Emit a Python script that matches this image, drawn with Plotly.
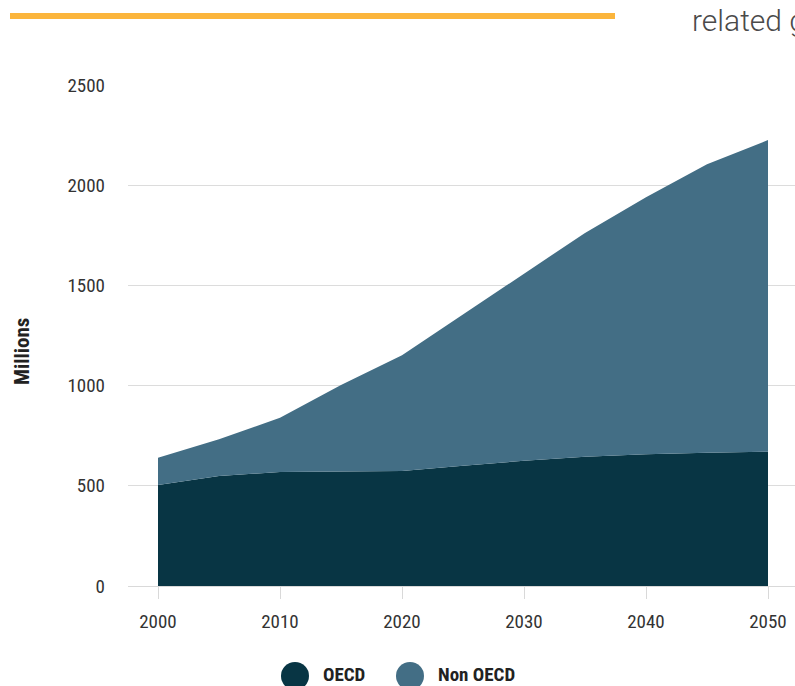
import plotly.graph_objects as go

# Data (millions)
years = [2000, 2005, 2010, 2015, 2020, 2025, 2030, 2035, 2040, 2045, 2050]
oecd = [504, 549, 569, 572, 574, 600, 625, 645, 657, 665, 670]
total = [640, 732, 840, 1003, 1151, 1355, 1560, 1762, 1940, 2104, 2225]
non_oecd = [t - o for t, o in zip(total, oecd)]

series_names = ["OECD", "Non OECD"]
series_colors = ["#083544", "#436e85"]

COND = "Roboto Condensed, Liberation Sans Narrow, DejaVu Sans Condensed, Roboto, sans-serif"

W, H = 795, 686
L, R, T, B = 128, 0, 85, 100
PW, PH = W - L - R, H - T - B


def px_x(p):
    return (p - L) / PW


def px_y(p):
    return (H - B - p) / PH


fig = go.Figure()
for name, vals, col in zip(series_names, [oecd, non_oecd], series_colors):
    fig.add_trace(go.Scatter(
        x=years, y=vals, name=name, mode="lines",
        stackgroup="one", line=dict(width=0, color=col),
        fillcolor=col, showlegend=False,
    ))

shapes = [
    # accent bar across the top
    dict(type="rect", xref="paper", yref="paper",
         x0=px_x(10), x1=px_x(615), y0=px_y(19), y1=px_y(13),
         fillcolor="#fbb53c", line=dict(width=0)),
]
annotations = [
    dict(text="related g", xref="paper", yref="paper", x=px_x(690), y=px_y(21),
         xanchor="left", yanchor="middle", showarrow=False,
         font=dict(family="Roboto", size=30, color="#4a4a4a", weight=300)),
    dict(text="<b>Millions</b>", xref="paper", yref="paper", x=px_x(22), y=px_y(352),
         xanchor="center", yanchor="middle", textangle=-90, showarrow=False,
         font=dict(family=COND, size=21, color="#222")),
]

# legend drawn as large dots with bold labels
legend_cx = [295, 410]
for cx, name, col in zip(legend_cx, series_names, series_colors):
    shapes.append(dict(type="circle", xref="paper", yref="paper",
                       xsizemode="pixel", ysizemode="pixel",
                       xanchor=px_x(cx), yanchor=px_y(676),
                       x0=-14, x1=14, y0=-14, y1=14,
                       fillcolor=col, line=dict(width=0)))
    annotations.append(dict(text=f"<b>{name}</b>", xref="paper", yref="paper",
                            x=px_x(cx + 26), y=px_y(674), xanchor="left", yanchor="middle",
                            showarrow=False, font=dict(family=COND, size=19, color="#222")))

fig.update_layout(
    width=W, height=H,
    margin=dict(l=L, r=R, t=T, b=B),
    paper_bgcolor="white", plot_bgcolor="white",
    showlegend=False,
    shapes=shapes, annotations=annotations,
    xaxis=dict(
        range=[2000 - 30 / 12.2, 2000 + (W - 158) / 12.2],
        tickvals=[2000, 2010, 2020, 2030, 2040, 2050],
        showgrid=False, zeroline=False, showline=False,
        ticks="outside", ticklen=12, tickcolor="#d9d9d9", tickwidth=1,
        ticklabelstandoff=6,
        tickfont=dict(family=COND, size=19, color="#333"),
    ),
    yaxis=dict(
        range=[0, 2500], tickvals=[0, 500, 1000, 1500, 2000, 2500],
        showgrid=True, gridcolor="#dcdcdc", gridwidth=1,
        zeroline=True, zerolinecolor="#d9d9d9", zerolinewidth=1,
        showline=False, ticks="", ticklabelstandoff=22,
        tickfont=dict(family=COND, size=19, color="#333"),
    ),
)

fig.write_html("out.html")
